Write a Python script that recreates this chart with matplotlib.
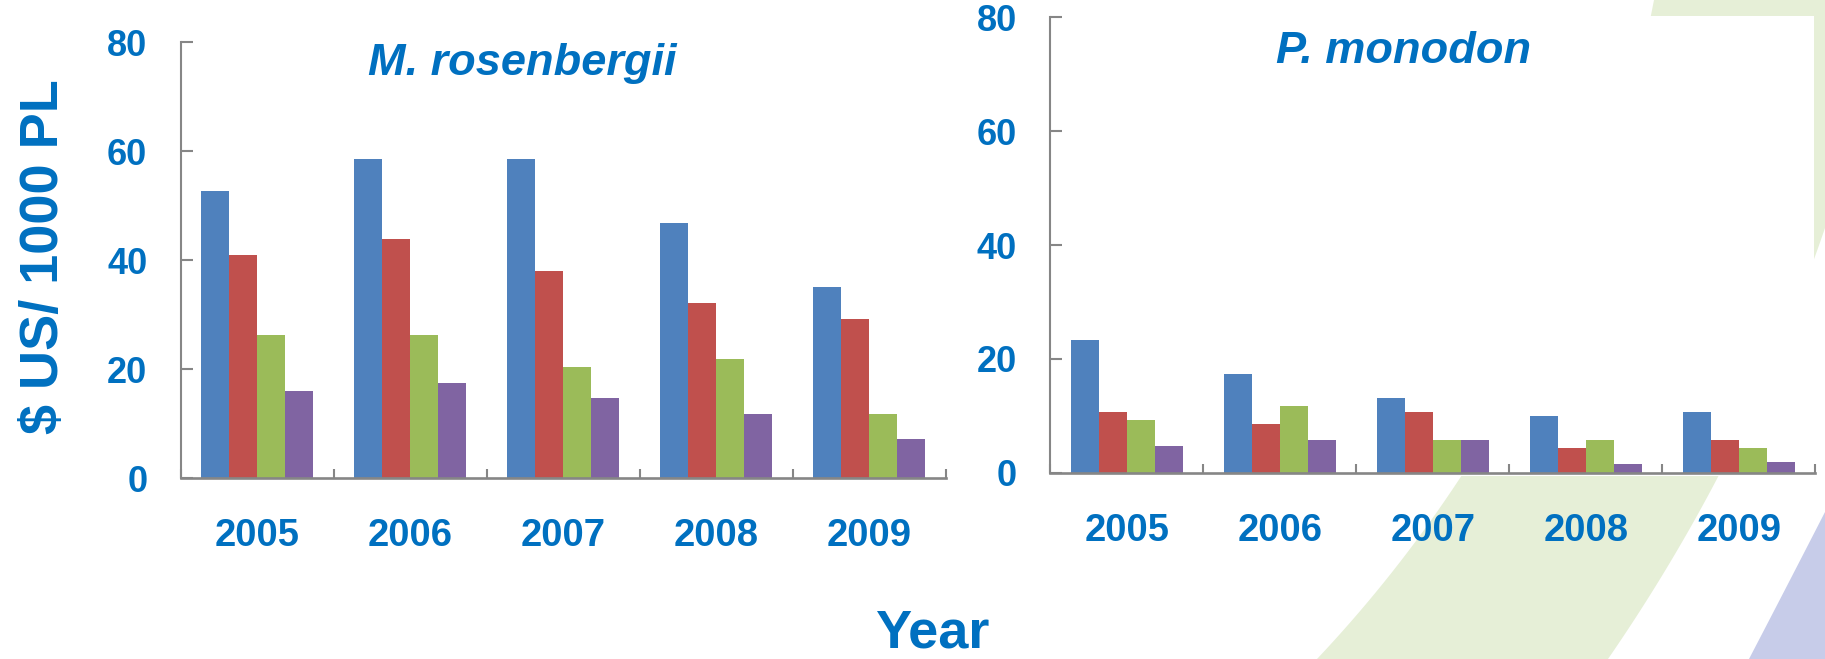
import numpy as np
import matplotlib
matplotlib.use("Agg")
import matplotlib.pyplot as plt
from matplotlib.patches import Polygon, Rectangle

# ---------------- data ----------------
years = ["2005", "2006", "2007", "2008", "2009"]
series_colors = ["#4F81BD", "#C0504D", "#9BBB59", "#8064A2"]

rosenbergii_s1 = [52.7, 58.5, 58.5, 46.8, 35.1]
rosenbergii_s2 = [40.9, 43.9, 38.0, 32.2, 29.2]
rosenbergii_s3 = [26.2, 26.2, 20.4, 21.9, 11.7]
rosenbergii_s4 = [16.0, 17.4, 14.6, 11.7, 7.2]

monodon_s1 = [23.3, 17.3, 13.1, 10.0, 10.7]
monodon_s2 = [10.7, 8.6, 10.7, 4.4, 5.8]
monodon_s3 = [9.3, 11.7, 5.8, 5.8, 4.4]
monodon_s4 = [4.7, 5.8, 5.8, 1.6, 1.9]

y_ticks = [0, 20, 40, 60, 80]
title_left = "M. rosenbergii"
title_right = "P. monodon"
ylabel = "$ US/ 1000 PL"
xlabel = "Year"

# ---------------- style ----------------
W, H = 1825, 659
TXT = "#0070C0"
GRAY = "#868686"
FONT = "Liberation Sans"
plt.rcParams["font.family"] = [FONT, "DejaVu Sans"]

fig = plt.figure(figsize=(W / 100, H / 100), dpi=100)
fig.patch.set_facecolor("white")

# background decoration (pixel coordinates, y downward)
bg = fig.add_axes([0, 0, 1, 1], zorder=0)
bg.set_xlim(0, W)
bg.set_ylim(H, 0)
bg.axis("off")


def arc_points(p1, p2, p3, n=60):
    (x1, y1), (x2, y2), (x3, y3) = p1, p2, p3
    d = 2 * (x1 * (y2 - y3) + x2 * (y3 - y1) + x3 * (y1 - y2))
    ux = ((x1**2 + y1**2) * (y2 - y3) + (x2**2 + y2**2) * (y3 - y1) + (x3**2 + y3**2) * (y1 - y2)) / d
    uy = ((x1**2 + y1**2) * (x3 - x2) + (x2**2 + y2**2) * (x1 - x3) + (x3**2 + y3**2) * (x2 - x1)) / d
    r = np.hypot(x1 - ux, y1 - uy)
    aa = np.unwrap([np.arctan2(y1 - uy, x1 - ux),
                    np.arctan2(y2 - uy, x2 - ux),
                    np.arctan2(y3 - uy, x3 - ux)])
    t = np.linspace(aa[0], aa[2], n)
    return np.column_stack([ux + r * np.cos(t), uy + r * np.sin(t)])


green_left = arc_points((1654, 0), (1462, 475), (1317, 659))
green_right = arc_points((1608, 659), (1719, 475), (1825, 228))
green_poly = np.vstack([green_left, green_right, [[1825, 0]]])
bg.add_patch(Polygon(green_poly, closed=True, facecolor="#e6efd7", edgecolor="none"))

purple_left = arc_points((1749, 659), (1790, 580), (1825, 512))
purple_poly = np.vstack([purple_left, [[1825, 659]]])
bg.add_patch(Polygon(purple_poly, closed=True, facecolor="#c7cce9", edgecolor="none"))

bg.add_patch(Rectangle((1040, 16), 1814 - 1040, 476 - 16, facecolor="white", edgecolor="none"))


def px_axes(x0, x1, y_top, y_bottom):
    return [x0 / W, (H - y_bottom) / H, (x1 - x0) / W, (y_bottom - y_top) / H]


def draw_panel(rect, series):
    ax = fig.add_axes(rect, zorder=2)
    ax.patch.set_alpha(0)
    n = len(years)
    centers = np.arange(n) + 0.5
    bw = 28 / 153
    for j, (vals, col) in enumerate(zip(series, series_colors)):
        ax.bar(centers + (j - 1.5) * bw, vals, width=bw, color=col, edgecolor="none", zorder=2)
    ax.set_xlim(0, n)
    ax.set_ylim(0, 80)
    for s in ["top", "right"]:
        ax.spines[s].set_visible(False)
    ax.spines["left"].set_color(GRAY)
    ax.spines["left"].set_linewidth(1.5)
    ax.spines["bottom"].set_color(GRAY)
    ax.spines["bottom"].set_linewidth(1.9)
    ax.spines["bottom"].set_zorder(3)
    ax.set_yticks(y_ticks)
    ax.set_yticklabels([str(v) for v in y_ticks])
    ax.set_xticks(centers)
    ax.set_xticklabels(years)
    ax.set_xticks(np.arange(n + 1), minor=True)
    ax.tick_params(axis="x", which="major", length=0, pad=29, labelsize=27.5, labelcolor=TXT)
    ax.tick_params(axis="x", which="minor", direction="in", length=6.5, width=1.5, color=GRAY)
    ax.tick_params(axis="y", direction="in", length=8.6, width=1.5, color=GRAY, pad=24,
                   labelsize=26, labelcolor=TXT)
    for lab in ax.get_xticklabels() + ax.get_yticklabels():
        lab.set_fontweight("bold")
    return ax


ax1 = draw_panel(px_axes(180.7, 945.7, 42.3, 478.0),
                 [rosenbergii_s1, rosenbergii_s2, rosenbergii_s3, rosenbergii_s4])
ax2 = draw_panel(px_axes(1050.4, 1815.4, 17.2, 472.9),
                 [monodon_s1, monodon_s2, monodon_s3, monodon_s4])

fig.text(522 / W, (H - 75) / H, title_left, ha="center", va="baseline", fontsize=32.5,
         fontweight="bold", fontstyle="italic", color=TXT)
fig.text(1404 / W, (H - 63) / H, title_right, ha="center", va="baseline", fontsize=32.5,
         fontweight="bold", fontstyle="italic", color=TXT)

fig.text(44 / W, (H - 257) / H, ylabel, rotation=90, ha="center", va="center", fontsize=39,
         fontweight="bold", color=TXT)
fig.text(932 / W, 1.0 / H, xlabel, ha="center", va="bottom", fontsize=39,
         fontweight="bold", color=TXT)

fig.savefig("out.png", dpi=100)
